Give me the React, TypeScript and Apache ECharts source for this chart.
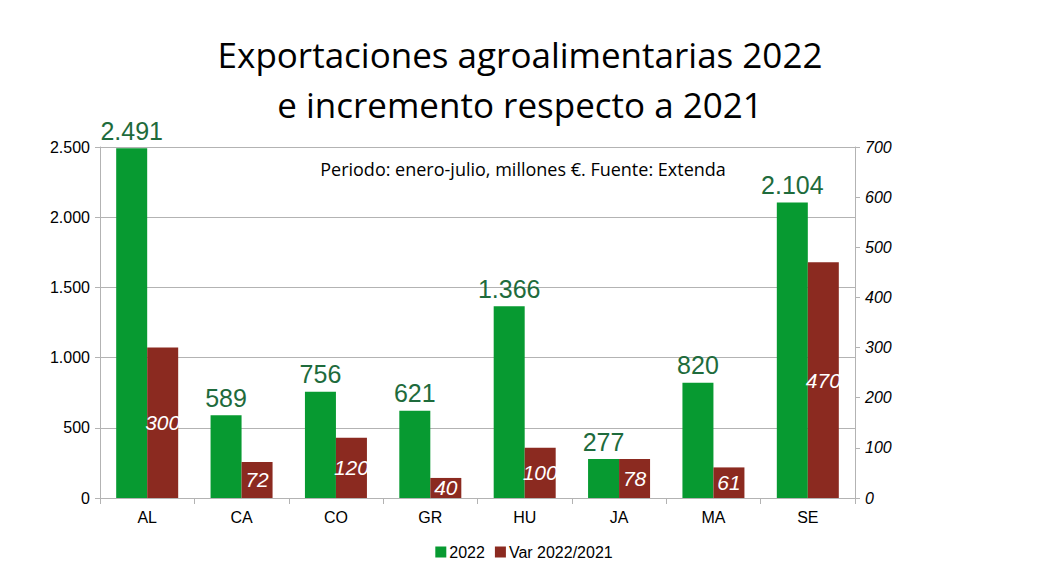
import React, { useEffect, useRef } from "react";
import * as echarts from "echarts";

const categories = ["AL", "CA", "CO", "GR", "HU", "JA", "MA", "SE"];
const exports2022 = [2491, 589, 756, 621, 1366, 277, 820, 2104];
const var2022_2021 = [300, 72, 120, 40, 100, 78, 61, 470];
const leftTicks = [0, 500, 1000, 1500, 2000, 2500];
const rightTicks = [0, 100, 200, 300, 400, 500, 600, 700];

const fmt = (v: number) => {
  const s = String(Math.round(v));
  return s.replace(/\B(?=(\d{3})+(?!\d))/g, ".");
};

export default function App() {
  const ref = useRef<HTMLDivElement>(null);
  useEffect(() => {
    if (!ref.current) return;
    const chart = echarts.init(ref.current, undefined, { renderer: "svg" });
    const axisColor = "#b3b3b3";
    chart.setOption({
      animation: false,
      backgroundColor: "#ffffff",
      title: [
        {
          text: "Exportaciones agroalimentarias 2022\ne incremento respecto a 2021",
          left: 520,
          textAlign: "center",
          top: 29,
          padding: 0,
          textStyle: {
            fontFamily: "Open Sans",
            fontWeight: "normal",
            fontSize: 35,
            lineHeight: 50,
            color: "#000",
          },
        },
        {
          text: "Periodo: enero-julio, millones €. Fuente: Extenda",
          left: 523,
          textAlign: "center",
          top: 160,
          padding: 0,
          textStyle: {
            fontFamily: "Open Sans",
            fontWeight: "normal",
            fontSize: 18,
            color: "#000",
          },
        },
      ],
      legend: {
        bottom: 6,
        left: "center",
        itemWidth: 11,
        itemHeight: 11,
        itemGap: 10,
        icon: "rect",
        textStyle: { fontFamily: "Liberation Sans", fontSize: 16, color: "#000", padding: [0, 0, 0, -2] },
        data: ["2022", "Var 2022/2021"],
      },
      grid: { left: 100, right: 193, top: 147, bottom: 73 },
      xAxis: {
        type: "category",
        data: categories,
        axisLine: { lineStyle: { color: axisColor } },
        axisTick: { show: true, length: 6, lineStyle: { color: axisColor } },
        axisLabel: { fontFamily: "Liberation Sans", fontSize: 16, color: "#000", margin: 11 },
      },
      yAxis: [
        {
          type: "value",
          min: leftTicks[0],
          max: leftTicks[leftTicks.length - 1],
          interval: 500,
          axisLine: { show: true, lineStyle: { color: axisColor } },
          axisTick: { show: true, length: 5, lineStyle: { color: axisColor } },
          splitLine: { lineStyle: { color: axisColor } },
          axisLabel: {
            fontFamily: "Liberation Sans",
            fontSize: 16,
            color: "#000",
            margin: 10,
            formatter: (v: number) => fmt(v),
          },
        },
        {
          type: "value",
          min: rightTicks[0],
          max: rightTicks[rightTicks.length - 1],
          interval: 100,
          position: "right",
          axisLine: { show: true, lineStyle: { color: axisColor } },
          axisTick: { show: true, length: 5, lineStyle: { color: axisColor } },
          splitLine: { show: false },
          axisLabel: {
            fontFamily: "Liberation Sans",
            fontSize: 16,
            fontStyle: "italic",
            color: "#000",
            margin: 10,
          },
        },
      ],
      series: [
        {
          name: "2022",
          type: "bar",
          yAxisIndex: 0,
          data: exports2022,
          barWidth: 31,
          barGap: "0%",
          itemStyle: { color: "#079a31" },
          label: {
            show: true,
            position: "top",
            distance: 5,
            fontFamily: "Liberation Sans",
            fontSize: 25,
            color: "#1e6b3c",
            formatter: (p: any) => fmt(p.value),
          },
        },
        {
          name: "Var 2022/2021",
          type: "bar",
          yAxisIndex: 1,
          data: var2022_2021,
          barWidth: 31,
          barGap: "0%",
          itemStyle: { color: "#8b2a20" },
          label: {
            show: true,
            position: "inside",
            fontFamily: "Liberation Sans",
            fontSize: 21,
            fontStyle: "italic",
            color: "#ffffff",
          },
        },
      ],
    });
    return () => chart.dispose();
  }, []);
  return (
    <div
      ref={ref}
      style={{ position: "absolute", left: 0, top: 0, width: 1048, height: 571 }}
    />
  );
}
